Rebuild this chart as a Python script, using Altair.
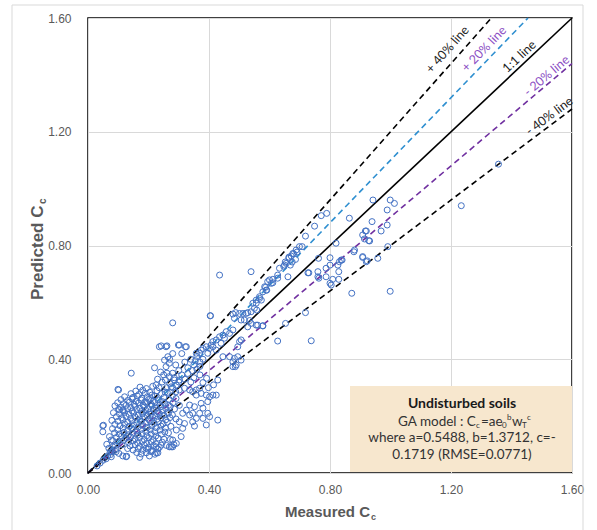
import math
import altair as alt
import pandas as pd

W, H = 484, 455
XMAX = 1.6

# ---------------- data ----------------
core_points = [
    (0.172,0.302),(0.193,0.297),(0.214,0.305),(0.101,0.292),(0.158,0.288),(0.181,0.291),(0.204,0.284),(0.228,0.289),
    (0.142,0.279),(0.168,0.276),(0.189,0.281),(0.211,0.274),(0.243,0.279),(0.262,0.283),
    (0.121,0.268),(0.149,0.266),(0.163,0.271),(0.178,0.263),(0.196,0.268),(0.207,0.262),(0.222,0.270),(0.251,0.266),(0.279,0.272),
    (0.109,0.258),(0.131,0.255),(0.146,0.261),(0.159,0.252),(0.176,0.257),(0.188,0.250),(0.201,0.259),(0.216,0.253),(0.232,0.257),(0.246,0.251),(0.268,0.259),(0.291,0.262),
    (0.098,0.247),(0.118,0.244),(0.137,0.249),(0.152,0.241),(0.167,0.246),(0.182,0.239),(0.194,0.245),(0.209,0.242),(0.221,0.248),(0.237,0.240),(0.253,0.245),(0.266,0.238),(0.281,0.247),
    (0.089,0.236),(0.108,0.232),(0.126,0.238),(0.141,0.230),(0.156,0.235),(0.171,0.228),(0.186,0.233),(0.199,0.226),(0.212,0.236),(0.226,0.229),(0.241,0.233),(0.257,0.227),(0.272,0.234),(0.302,0.238),
    (0.101,0.224),(0.116,0.219),(0.131,0.226),(0.146,0.218),(0.161,0.223),(0.176,0.216),(0.191,0.221),(0.204,0.214),(0.217,0.222),(0.231,0.215),(0.246,0.220),(0.262,0.213),(0.286,0.225),
    (0.084,0.212),(0.104,0.208),(0.121,0.213),(0.136,0.206),(0.151,0.211),(0.166,0.204),(0.181,0.209),(0.196,0.202),(0.209,0.207),(0.222,0.201),(0.236,0.209),(0.251,0.203),(0.266,0.210),(0.279,0.204),
    (0.094,0.198),(0.111,0.194),(0.126,0.199),(0.141,0.192),(0.156,0.197),(0.171,0.190),(0.186,0.195),(0.201,0.188),(0.214,0.196),(0.228,0.189),(0.242,0.194),(0.257,0.187),(0.271,0.195),(0.291,0.190),
    (0.079,0.185),(0.099,0.182),(0.116,0.187),(0.131,0.179),(0.146,0.184),(0.161,0.177),(0.176,0.182),(0.191,0.175),(0.206,0.181),(0.219,0.174),(0.233,0.180),(0.248,0.173),(0.262,0.179),
    (0.051,0.168),(0.089,0.171),(0.106,0.166),(0.121,0.172),(0.136,0.164),(0.151,0.169),(0.166,0.162),(0.181,0.167),(0.196,0.160),(0.211,0.166),(0.226,0.159),(0.241,0.165),(0.256,0.158),(0.274,0.164),
    (0.081,0.156),(0.098,0.152),(0.116,0.158),(0.131,0.150),(0.146,0.155),(0.161,0.148),(0.176,0.153),(0.191,0.146),(0.206,0.152),(0.221,0.145),(0.238,0.151),(0.254,0.144),
    (0.049,0.145),(0.088,0.141),(0.103,0.137),(0.119,0.143),(0.134,0.135),(0.149,0.140),(0.164,0.133),(0.179,0.138),(0.194,0.131),(0.209,0.137),(0.224,0.130),(0.243,0.136),(0.266,0.141),
    (0.071,0.128),(0.094,0.125),(0.111,0.130),(0.126,0.122),(0.141,0.127),(0.156,0.120),(0.171,0.125),(0.186,0.118),(0.201,0.124),(0.216,0.117),(0.232,0.123),(0.251,0.119),
    (0.082,0.114),(0.101,0.110),(0.118,0.115),(0.134,0.108),(0.149,0.113),(0.164,0.106),(0.179,0.111),(0.194,0.104),(0.209,0.110),(0.224,0.103),(0.246,0.108),(0.272,0.118),
    (0.062,0.101),(0.091,0.097),(0.112,0.100),(0.139,0.095),(0.156,0.099),(0.171,0.093),(0.186,0.098),(0.201,0.091),(0.216,0.096),(0.236,0.090),(0.259,0.097),
    (0.069,0.087),(0.093,0.083),(0.131,0.086),(0.149,0.081),(0.166,0.086),(0.181,0.080),(0.198,0.084),(0.213,0.079),(0.231,0.085),
    (0.073,0.073),(0.102,0.069),(0.161,0.072),(0.176,0.067),(0.193,0.071),(0.221,0.066),
    (0.128,0.059),(0.171,0.055),(0.203,0.060),(0.226,0.071),
    (0.077,0.116),(0.082,0.092),(0.093,0.075),(0.077,0.057),(0.115,0.060),(0.126,0.057),
    (0.192,0.087),(0.209,0.075),(0.231,0.071),(0.242,0.098),(0.269,0.092),(0.280,0.092),(0.292,0.104),(0.225,0.092),
    (0.030,0.025),(0.040,0.035),(0.050,0.045),(0.060,0.050),(0.065,0.060),(0.075,0.065),(0.080,0.075),
    (0.049,0.166),(0.099,0.294),(0.104,0.222),(0.115,0.222),(0.143,0.351),(0.22,0.370),
]

tail_points = [
    (0.242,0.447),(0.261,0.447),(0.299,0.450),(0.322,0.444),(0.264,0.409),(0.253,0.397),(0.269,0.386),(0.258,0.374),
    (0.261,0.351),(0.280,0.351),(0.269,0.339),(0.256,0.327),(0.286,0.327),(0.302,0.327),
    (0.292,0.309),(0.275,0.303),(0.302,0.292),(0.319,0.298),(0.336,0.292),(0.346,0.286),(0.358,0.292),(0.369,0.298),
    (0.358,0.274),(0.374,0.280),(0.391,0.274),(0.402,0.268),(0.413,0.274),(0.424,0.274),
    (0.396,0.251),(0.374,0.245),(0.380,0.228),(0.352,0.233),(0.336,0.239),(0.325,0.221),(0.313,0.210),(0.336,0.204),
    (0.346,0.210),(0.369,0.210),(0.396,0.210),(0.358,0.192),(0.380,0.192),(0.402,0.198),(0.429,0.186),(0.346,0.180),
    (0.319,0.174),(0.302,0.180),(0.313,0.157),(0.292,0.151),(0.308,0.128),(0.280,0.116),(0.275,0.092),(0.284,0.100),
    (0.352,0.165),(0.391,0.169),
    (0.380,0.318),(0.398,0.300),(0.415,0.310),(0.429,0.327),(0.392,0.333),(0.370,0.345),
    (0.270,0.400),(0.290,0.380),(0.300,0.360),(0.310,0.345),(0.320,0.390),(0.330,0.370),(0.340,0.400),(0.350,0.380),
    (0.360,0.410),(0.310,0.420),(0.280,0.420),(0.330,0.350),(0.345,0.360),(0.355,0.395),(0.370,0.390),(0.380,0.400),
    (0.360,0.365),(0.350,0.335),(0.340,0.320),(0.320,0.330),(0.300,0.320),(0.285,0.335),(0.370,0.375),
    (0.230,0.330),(0.245,0.320),(0.250,0.345),(0.235,0.300),(0.260,0.300),(0.270,0.315),(0.280,0.300),(0.255,0.285),
    (0.290,0.285),(0.240,0.355),(0.225,0.310),(0.236,0.444),(0.258,0.444),(0.280,0.528),
]

mid_points = [
    (0.435,0.696),(0.539,0.708),(0.405,0.553),(0.404,0.553),
    (0.664,0.759),(0.680,0.771),(0.691,0.777),(0.652,0.742),(0.669,0.731),(0.647,0.727),(0.686,0.751),(0.675,0.742),
    (0.633,0.720),(0.627,0.696),(0.611,0.681),(0.594,0.673),(0.606,0.667),(0.587,0.653),(0.578,0.637),(0.591,0.643),
    (0.661,0.690),(0.727,0.704),(0.787,0.720),(0.763,0.685),(0.787,0.690),
    (0.567,0.614),(0.573,0.608),(0.556,0.597),(0.558,0.573),(0.550,0.579),(0.539,0.567),(0.528,0.564),(0.523,0.561),
    (0.512,0.561),(0.501,0.561),(0.488,0.564),(0.479,0.559),(0.484,0.544),(0.506,0.538),(0.517,0.538),(0.534,0.536),
    (0.528,0.514),(0.539,0.526),(0.561,0.520),(0.578,0.517),(0.506,0.468),(0.501,0.462),(0.495,0.444),
    (0.479,0.503),(0.468,0.491),(0.457,0.497),(0.446,0.485),(0.435,0.479),(0.424,0.468),(0.413,0.462),(0.407,0.450),
    (0.413,0.444),(0.402,0.438),(0.391,0.444),(0.380,0.438),(0.374,0.432),(0.369,0.421),(0.358,0.421),(0.396,0.421),
    (0.424,0.432),(0.440,0.456),(0.451,0.474),
    (0.446,0.409),(0.468,0.409),(0.479,0.391),(0.490,0.380),(0.479,0.374),(0.484,0.403),(0.495,0.409),(0.506,0.397),
    (0.487,0.374),(0.325,0.444),(0.302,0.450),
]

upper_points = [
    (0.942,0.960),(0.999,0.960),(1.013,0.948),(0.989,0.925),(0.939,0.884),(0.989,0.872),(0.969,0.851),
    (0.917,0.851),(0.908,0.837),(0.928,0.817),(0.864,0.896),(0.789,0.913),(0.771,0.905),(0.749,0.868),
    (0.719,0.833),(0.699,0.796),(0.708,0.796),(0.688,0.784),(0.677,0.772),(0.672,0.763),(0.664,0.755),
    (0.650,0.731),(0.655,0.737),(0.627,0.685),(0.611,0.669),(0.600,0.679),(0.584,0.655),(0.589,0.643),
    (0.567,0.620),(0.556,0.608),(0.545,0.597),(0.820,0.808),(0.881,0.784),(0.908,0.761),(0.920,0.743),
    (0.958,0.755),(0.991,0.796),(0.800,0.757),(0.800,0.731),(0.831,0.743),(0.826,0.731),(0.837,0.749),
    (0.829,0.708),(0.809,0.681),(0.829,0.681),(0.800,0.667),(0.804,0.661),(0.760,0.708),(0.760,0.690),
    (0.730,0.704),(0.762,0.755),(0.872,0.632),(0.999,0.639),(0.719,0.564),(0.653,0.526),(0.578,0.518),
    (0.556,0.520),(0.627,0.464),(0.738,0.465),(1.234,0.940),(1.357,1.086),(0.879,0.778),
    (0.840,0.749),(0.908,0.758),(0.923,0.746),(0.920,0.851),(0.914,0.823),(0.931,0.816),
]

line_names = ["+ 40% line", "+ 20% line", "1:1 line", "- 20% line", "- 40% line"]
line_slopes = [1.2, 1.1, 1.0, 0.9, 0.8]
line_colors = ["#000000", "#2E8FD0", "#000000", "#7030A0", "#000000"]
line_dashed = [True, True, False, True, True]
label_colors = ["#222222", "#8C4FC4", "#222222", "#8C4FC4", "#222222"]
label_x = [1.218, 1.333, 1.444, 1.531, 1.541]
label_dy = [-5, -3, -1, 0, -1]
tick_values = [0.0, 0.4, 0.8, 1.2, 1.6]

# ---------------- build ----------------
pts = core_points + tail_points + mid_points + upper_points
pts_df = pd.DataFrame(pts, columns=["measured", "predicted"])

xscale = alt.Scale(domain=[0, XMAX], nice=False, zero=False)
yscale = alt.Scale(domain=[0, XMAX], nice=False, zero=False)

axis_common = dict(values=tick_values, format=".2f", title=None, grid=True,
                   gridColor="#D9D9D9", gridWidth=1, domain=False, ticks=False,
                   labelFontSize=12, labelColor="#595959", labelFont="Liberation Sans",
                   labelFlush=False)
x_axis = alt.Axis(labelPadding=11, **axis_common)
y_axis = alt.Axis(labelPadding=17, **axis_common)

one = pd.DataFrame({"t": [""]})

outer = alt.Chart(one).mark_rect(fill=None, stroke="#D9D9D9", strokeWidth=1).encode(
    x=alt.value(-76), x2=alt.value(495), y=alt.value(-13), y2=alt.value(515))

box = alt.Chart(one).mark_rect(fill="#F7E7CE", stroke=None).encode(
    x=alt.value(262), x2=alt.value(484), y=alt.value(368), y2=alt.value(454))

layers = [outer, box]

# reference lines
for name, s, col, dashed in zip(line_names, line_slopes, line_colors, line_dashed):
    xe = min(XMAX, XMAX / s)
    df = pd.DataFrame({"measured": [0.0, xe], "predicted": [0.0, s * xe]})
    kw = dict(color=col, strokeWidth=1.6)
    if dashed:
        kw["strokeDash"] = [6, 4]
    layers.append(alt.Chart(df).mark_line(**kw).encode(
        x=alt.X("measured:Q", scale=xscale, axis=x_axis),
        y=alt.Y("predicted:Q", scale=yscale, axis=y_axis)))

points = alt.Chart(pts_df).mark_point(shape="circle", filled=False, size=36,
                                      strokeWidth=1, color="#4472C4", opacity=1).encode(
    x=alt.X("measured:Q", scale=xscale, axis=x_axis),
    y=alt.Y("predicted:Q", scale=yscale, axis=y_axis))
layers.append(points)

# line labels
for name, s, col, lx, dy in zip(line_names, line_slopes, label_colors, label_x, label_dy):
    ang = math.degrees(math.atan(s * H / W))
    df = pd.DataFrame({"measured": [lx], "predicted": [s * lx], "t": [name]})
    layers.append(alt.Chart(df).mark_text(font="Lato", fontSize=12.5, color=col, align="center",
                                          baseline="bottom", angle=360 - ang, dy=dy).encode(
        x=alt.X("measured:Q", scale=xscale), y=alt.Y("predicted:Q", scale=yscale), text="t:N"))

def txt(s, x, y, size=12, bold=False, color="#333333", align="left", baseline="alphabetic",
        font="Lato", angle=0):
    kw = dict(font=font, fontSize=size, color=color, align=align, baseline=baseline)
    if bold:
        kw["fontWeight"] = "bold"
    if angle:
        kw["angle"] = angle
    return alt.Chart(pd.DataFrame({"t": [s]})).mark_text(**kw).encode(
        x=alt.value(x), y=alt.value(y), text="t:N")

# box texts
FS = 13.5
layers.append(txt("Undisturbed soils", 374, 390, size=14, bold=True, color="#1a1a1a", align="center"))
x0 = 310
layers += [
    txt("GA model : C", x0, 407.5, size=FS),
    txt("c", x0 + 78, 409.5, size=8),
    txt("=ae", x0 + 83, 407.5, size=FS),
    txt("0", x0 + 104, 409.5, size=8),
    txt("b", x0 + 109, 401.5, size=8),
    txt("w", x0 + 114, 407.5, size=FS),
    txt("T", x0 + 124, 409.5, size=8),
    txt("c", x0 + 129, 401.5, size=8),
]
layers.append(txt("where a=0.5488, b=1.3712, c=-", 374, 424, size=FS, align="center"))
layers.append(txt("0.1719 (RMSE=0.0771)", 374, 440.5, size=FS, align="center"))

# axis titles
layers.append(txt("Measured C", 197, 499, size=15, bold=True, color="#595959", font="Liberation Sans"))
layers.append(txt("c", 283, 502, size=9, bold=True, color="#595959", font="Liberation Sans"))
layers.append(txt("Predicted C", -45, 282, size=17, bold=True, color="#595959",
                  font="Liberation Sans", angle=270))
layers.append(txt("c", -42, 186, size=10, bold=True, color="#595959",
                  font="Liberation Sans", angle=270))

chart = alt.layer(*layers).properties(
    width=W, height=H,
    autosize=alt.AutoSizeParams(type="none"),
    padding={"left": 88, "top": 18, "right": 25, "bottom": 57},
    background="white",
).configure_view(stroke="black", strokeWidth=1.5)

chart.save("out.html", embed_options={"renderer": "svg", "actions": False})
